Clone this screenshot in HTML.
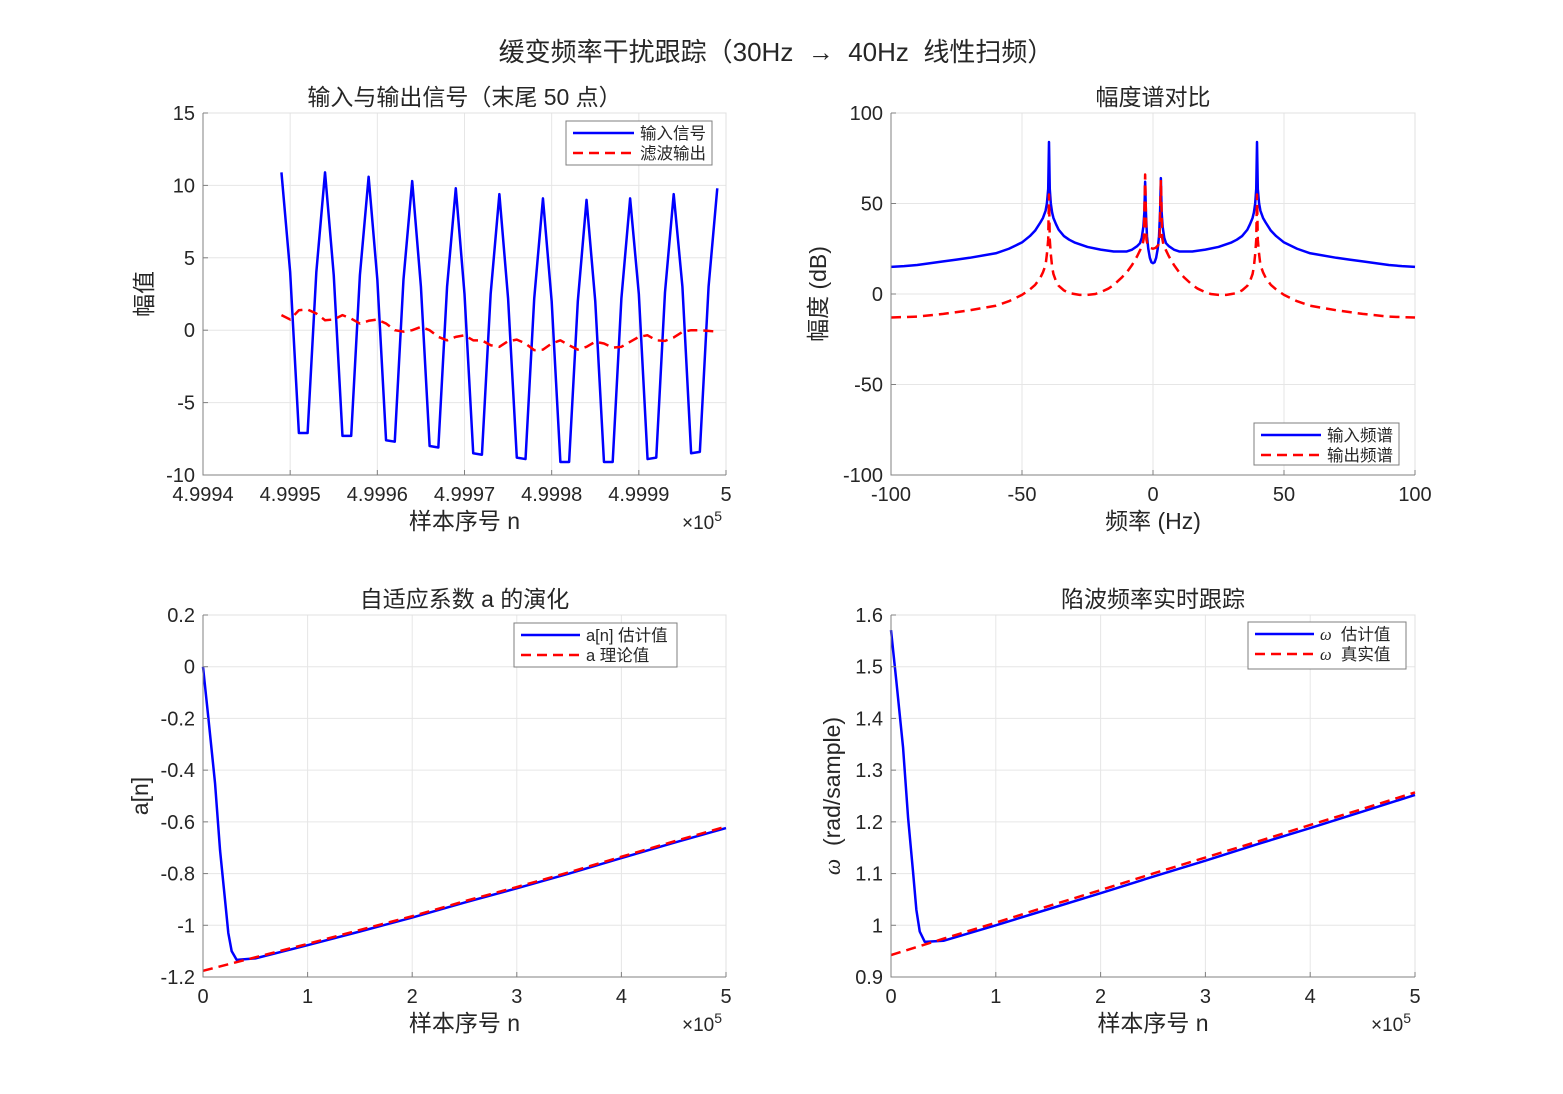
<!DOCTYPE html>
<html><head><meta charset="utf-8">
<style>
html,body{margin:0;padding:0;background:#fff;}
svg{display:block;font-family:"Liberation Sans","Noto Sans CJK SC",sans-serif;}
</style></head>
<body>
<svg id="fig" width="1563" height="1094" viewBox="0 0 1563 1094"></svg>
<script>
// ---- Data: top-left (tail 50 samples) ----
const tlN = [499949,499950,499951,499952,499953,499954,499955,499956,499957,499958,499959,499960,499961,499962,499963,499964,499965,499966,499967,499968,499969,499970,499971,499972,499973,499974,499975,499976,499977,499978,499979,499980,499981,499982,499983,499984,499985,499986,499987,499988,499989,499990,499991,499992,499993,499994,499995,499996,499997,499998,499999];
const tlInput = [10.9,4,-7.1,-7.1,4,10.9,3.8,-7.3,-7.3,3.8,10.6,3.5,-7.6,-7.7,3.5,10.3,3,-8.0,-8.1,3,9.8,2.5,-8.5,-8.6,2.5,9.4,2.2,-8.8,-8.9,2.2,9.1,2,-9.1,-9.1,2,9.0,2,-9.1,-9.1,2.2,9.1,2.5,-8.9,-8.8,2.6,9.4,3,-8.5,-8.4,3,9.8];
const tlOutput = [1.04,0.74,1.38,1.43,1.15,0.69,0.74,1.04,0.8,0.46,0.65,0.74,0.46,0,-0.1,0,0.23,0,-0.46,-0.7,-0.46,-0.35,-0.7,-0.7,-1.04,-1.15,-0.76,-0.65,-0.92,-1.38,-1.34,-0.92,-0.7,-1.04,-1.34,-1.15,-0.8,-0.92,-1.2,-1.15,-0.8,-0.46,-0.35,-0.7,-0.74,-0.5,-0.12,0,0,-0.05,-0.1];
const tlXTicks = [4.9994,4.9995,4.9996,4.9997,4.9998,4.9999,5];
const tlXTickLabels = ["4.9994","4.9995","4.9996","4.9997","4.9998","4.9999","5"];
const tlYTicks = [15,10,5,0,-5,-10];
// ---- Data: top-right spectrum ----
const spFreqIn = [-100,-95,-90,-80,-75,-70,-60,-55,-50,-47,-45,-43,-42,-41,-40.5,-40,-39.7,-39.4,-39,-38.5,-38,-37,-36,-34,-32,-30,-25,-20,-15,-10,-8,-6,-5,-4.3,-3.7,-3.3,-3,-2.7,-2.3,-1.8,-1.2,-0.6,0,0.6,1.2,1.8,2.3,2.7,3,3.3,3.7,4.3,5,6,8,10,15,20,25,30,32,34,36,37,38,38.5,39,39.4,39.7,40,40.5,41,42,43,45,47,50,55,60,70,75,80,90,95,100];
const spIn = [15,15.4,16,18,19,20,22.5,25,28.5,32,35,39.5,42,46,50,58,84,58,50,45,42,38.5,35.5,32,30,28.5,26,24.5,23.5,23.5,24.5,26.5,28,31,37,45,62,45,32,25,20,17.5,17,17.5,20,25,32,45,64,45,37,31,28,26.5,24.5,23.5,23.5,24.5,26,28.5,30,32,35.5,38.5,42,45,50,58,84,58,50,46,42,39.5,35,32,28.5,25,22.5,20,19,18,16,15.4,15];
const spFreqOut = [-100,-90,-80,-70,-60,-55,-50,-47,-45,-43,-42,-41,-40.5,-40,-39.7,-39.4,-39,-38.5,-38,-37,-36,-34,-32,-30,-28,-25,-22,-20,-17,-15,-12,-10,-8,-6,-5,-4,-3.5,-3,-2.5,-2,-1,0,1,2,2.5,3,3.5,4,5,6,8,10,12,15,17,20,22,25,28,30,32,34,36,37,38,38.5,39,39.4,39.7,40,40.5,41,42,43,45,47,50,55,60,70,80,90,100];
const spOut = [-13,-12.5,-11,-9,-6.5,-4,-0.5,2.5,5,9,12,16,22,30,55,30,22,15,11,7,4.5,2,0.5,0,-0.5,-0.5,0,1,3,5,9,12,16,21,24,27,31,66,30,27,25.5,25,25.5,27,30,63,31,27,24,21,16,12,9,5,3,1,0,-0.5,-0.5,0,0.5,2,4.5,7,11,15,22,30,55,30,22,16,12,9,5,2.5,-0.5,-4,-6.5,-9,-11,-12.5,-13];
const spXTicks = [-100,-50,0,50,100];
const spYTicks = [100,50,0,-50,-100];
// ---- Data: bottom-left a[n] ----
const aN = [0,5000,11500,16300,21000,24200,27400,32200,50000,100000,150000,200000,250000,300000,350000,400000,450000,500000];
const aEst = [0,-0.193,-0.45,-0.71,-0.90,-1.03,-1.10,-1.134,-1.128,-1.077,-1.024,-0.970,-0.912,-0.857,-0.800,-0.740,-0.681,-0.624];
const aTrueN = [0,50000,100000,150000,200000,250000,300000,350000,400000,450000,500000];
const aTrue = [-1.176,-1.124,-1.072,-1.018,-0.965,-0.907,-0.852,-0.795,-0.735,-0.676,-0.618];
const blYTicks = [0.2,0,-0.2,-0.4,-0.6,-0.8,-1,-1.2];
const blYTickLabels = ["0.2","0","-0.2","-0.4","-0.6","-0.8","-1","-1.2"];
const nXTicks = [0,100000,200000,300000,400000,500000];
const nXTickLabels = ["0","1","2","3","4","5"];
// ---- Data: bottom-right omega ----
const wEst = [1.5708,1.474,1.344,1.208,1.104,1.030,0.988,0.968,0.970,1.000,1.031,1.062,1.094,1.125,1.157,1.188,1.220,1.252];
const wTrue = [0.9425,0.974,1.005,1.037,1.068,1.100,1.131,1.162,1.194,1.225,1.257];
const brYTicks = [1.6,1.5,1.4,1.3,1.2,1.1,1,0.9];
const brYTickLabels = ["1.6","1.5","1.4","1.3","1.2","1.1","1","0.9"];

const NS = "http://www.w3.org/2000/svg";
const fig = document.getElementById('fig');
function mk(tag, attrs, parent){
  const e = document.createElementNS(NS, tag);
  for (const k in attrs) e.setAttribute(k, attrs[k]);
  (parent||fig).appendChild(e);
  return e;
}
function txt(s, attrs, parent){ const e = mk('text', attrs, parent); e.textContent = s; return e; }

function axes(cfg){
  const g = mk('g', {});
  
  
  const sx = v => cfg.x0 + (v - cfg.xmin)/(cfg.xmax - cfg.xmin)*(cfg.x1 - cfg.x0);
  const sy = v => cfg.y1 - (v - cfg.ymin)/(cfg.ymax - cfg.ymin)*(cfg.y1 - cfg.y0);
  cfg.xticks.forEach((t,i)=>{
    const x = sx(t);
    const gl = mk('line',{x1:x,x2:x,y1:cfg.y0,y2:cfg.y1,stroke:'#e6e6e6','stroke-width':1},g);
    
    
  });
  cfg.yticks.forEach((t,i)=>{
    const y = sy(t);
    const gl = mk('line',{x1:cfg.x0,x2:cfg.x1,y1:y,y2:y,stroke:'#e6e6e6','stroke-width':1},g);
    
    
  });
  const bx = mk('path',{d:`M${cfg.x0},${cfg.y0}H${cfg.x1}V${cfg.y1}`,fill:'none',stroke:'#e0e0e0','stroke-width':1},g);
  
  
  cfg.series.forEach(s=>{
    const d = s.x.map((v,i)=>(i?'L':'M')+sx(v).toFixed(2)+','+sy(s.y[i]).toFixed(2)).join('');
    const p = mk('path',{d:d,fill:'none',stroke:s.color,'stroke-width':s.w,'stroke-linejoin':'round','stroke-dasharray':s.dash||'none'},g);
    
    
  });
  const ax = mk('path',{d:`M${cfg.x0},${cfg.y0}V${cfg.y1}H${cfg.x1}`,fill:'none',stroke:'#808080','stroke-width':1},g);
  
  
  cfg.xticks.forEach((t,i)=>{
    const x = sx(t);
    mk('line',{x1:x,x2:x,y1:cfg.y1,y2:cfg.y1-5,stroke:'#808080'},g);
    const tl = txt(cfg.xlabels[i],{x:x,y:cfg.y1+26,'text-anchor':'middle','font-size':20,fill:'#262626'},g);
    
    
  });
  cfg.yticks.forEach((t,i)=>{
    const y = sy(t);
    mk('line',{x1:cfg.x0,x2:cfg.x0+5,y1:y,y2:y,stroke:'#808080'},g);
    const tl = txt(cfg.ylabels[i],{x:cfg.x0-8,y:y+7,'text-anchor':'end','font-size':20,fill:'#262626'},g);
    
    
  });
  const ti = txt(cfg.title,{x:(cfg.x0+cfg.x1)/2,y:cfg.y0-8,'text-anchor':'middle','font-size':23,fill:'#262626'},g);
  
  
  const xl = txt(cfg.xtitle,{x:(cfg.x0+cfg.x1)/2,y:cfg.y1+54,'text-anchor':'middle','font-size':23,fill:'#262626'},g);
  
  
  const yl = txt('',{x:0,y:0,'text-anchor':'middle','font-size':23,fill:'#262626',transform:`translate(${cfg.ytx},${(cfg.y0+cfg.y1)/2}) rotate(-90)`},g);
  yl.innerHTML = cfg.ytitle;
  
  
  if (cfg.exp){
    const ex = txt('',{x:cfg.x1-24,y:cfg.y1+54,'text-anchor':'middle','font-size':19,fill:'#262626'},g);
    ex.innerHTML = '×10<tspan font-size="14" dy="-8">5</tspan>';
    
    
  }
  const L = cfg.legend;
  const lg = mk('g',{},g);
  
  
  mk('rect',{x:L.x,y:L.y,width:L.w,height:L.h,fill:'#fff',stroke:'#7f7f7f','stroke-width':1},lg);
  L.items.forEach((it,i)=>{
    const yy = L.y + 12 + i*20;
    const ent = mk('g',{},lg);
    
    
    mk('line',{x1:L.x+7,x2:L.x+L.lw,y1:yy,y2:yy,stroke:it.color,'stroke-width':2.5,'stroke-dasharray':it.dash||'none'},ent);
    const t = txt('',{x:L.x+L.lw+6,y:yy+6,'font-size':16.5,fill:'#262626'},ent);
    t.innerHTML = it.label;
  });
}

const sup = txt('',{x:776,y:61,'text-anchor':'middle','font-size':26,fill:'#262626'});
sup.innerHTML = '缓变频率干扰跟踪（30Hz&#160;&#160;→&#160;&#160;40Hz&#160;&#160;线性扫频）';



axes({name:'input-output-plot',x0:203,x1:726,y0:113,y1:475,xmin:4.9994,xmax:5,ymin:-10,ymax:15,
  xticks:tlXTicks,xlabels:tlXTickLabels,yticks:tlYTicks,ylabels:tlYTicks.map(String),
  title:'输入与输出信号（末尾 50 点）',xtitle:'样本序号 n',ytitle:'幅值',ytx:152,exp:true,
  series:[{name:'input-signal-line',x:tlN.map(v=>v/1e5),y:tlInput,color:'#0000ff',w:2.5},
          {name:'filtered-output-line',x:tlN.map(v=>v/1e5),y:tlOutput,color:'#ff0000',w:2.5,dash:'10,6'}],
  legend:{x:566,y:121,w:146,h:44,lw:68,items:[{label:'输入信号',color:'#0000ff'},{label:'滤波输出',color:'#ff0000',dash:'10,6'}]}
});
axes({name:'spectrum-plot',x0:891,x1:1415,y0:113,y1:475,xmin:-100,xmax:100,ymin:-100,ymax:100,
  xticks:spXTicks,xlabels:spXTicks.map(String),yticks:spYTicks,ylabels:spYTicks.map(String),
  title:'幅度谱对比',xtitle:'频率 (Hz)',ytitle:'幅度 (dB)',ytx:826,exp:false,
  series:[{name:'input-spectrum-line',x:spFreqIn,y:spIn,color:'#0000ff',w:2.5},
          {name:'output-spectrum-line',x:spFreqOut,y:spOut,color:'#ff0000',w:2.5,dash:'10,6'}],
  legend:{x:1254,y:423,w:145,h:42,lw:67,items:[{label:'输入频谱',color:'#0000ff'},{label:'输出频谱',color:'#ff0000',dash:'10,6'}]}
});
axes({name:'coefficient-plot',x0:203,x1:726,y0:615,y1:977,xmin:0,xmax:500000,ymin:-1.2,ymax:0.2,
  xticks:nXTicks,xlabels:nXTickLabels,yticks:blYTicks,ylabels:blYTickLabels,
  title:'自适应系数 a 的演化',xtitle:'样本序号 n',ytitle:'a[n]',ytx:148,exp:true,
  series:[{name:'a-estimate-line',x:aN,y:aEst,color:'#0000ff',w:2.5},
          {name:'a-theory-line',x:aTrueN,y:aTrue,color:'#ff0000',w:2.5,dash:'10,6'}],
  legend:{x:514,y:623,w:163,h:44,lw:66,items:[{label:'a[n] 估计值',color:'#0000ff'},{label:'a 理论值',color:'#ff0000',dash:'10,6'}]}
});
axes({name:'frequency-tracking-plot',x0:891,x1:1415,y0:615,y1:977,xmin:0,xmax:500000,ymin:0.9,ymax:1.6,
  xticks:nXTicks,xlabels:nXTickLabels,yticks:brYTicks,ylabels:brYTickLabels,
  title:'陷波频率实时跟踪',xtitle:'样本序号 n',ytitle:'<tspan font-style="italic" font-family="Liberation Serif">ω</tspan>&#160;&#160;(rad/sample)',ytx:840,exp:true,
  series:[{name:'omega-estimate-line',x:aN,y:wEst,color:'#0000ff',w:2.5},
          {name:'omega-true-line',x:aTrueN,y:wTrue,color:'#ff0000',w:2.5,dash:'10,6'}],
  legend:{x:1248,y:622,w:158,h:47,lw:66,items:[{label:'<tspan font-style="italic" font-family="Liberation Serif">ω</tspan>&#160;&#160;估计值',color:'#0000ff'},{label:'<tspan font-style="italic" font-family="Liberation Serif">ω</tspan>&#160;&#160;真实值',color:'#ff0000',dash:'10,6'}]}
});
</script>
</body></html>
